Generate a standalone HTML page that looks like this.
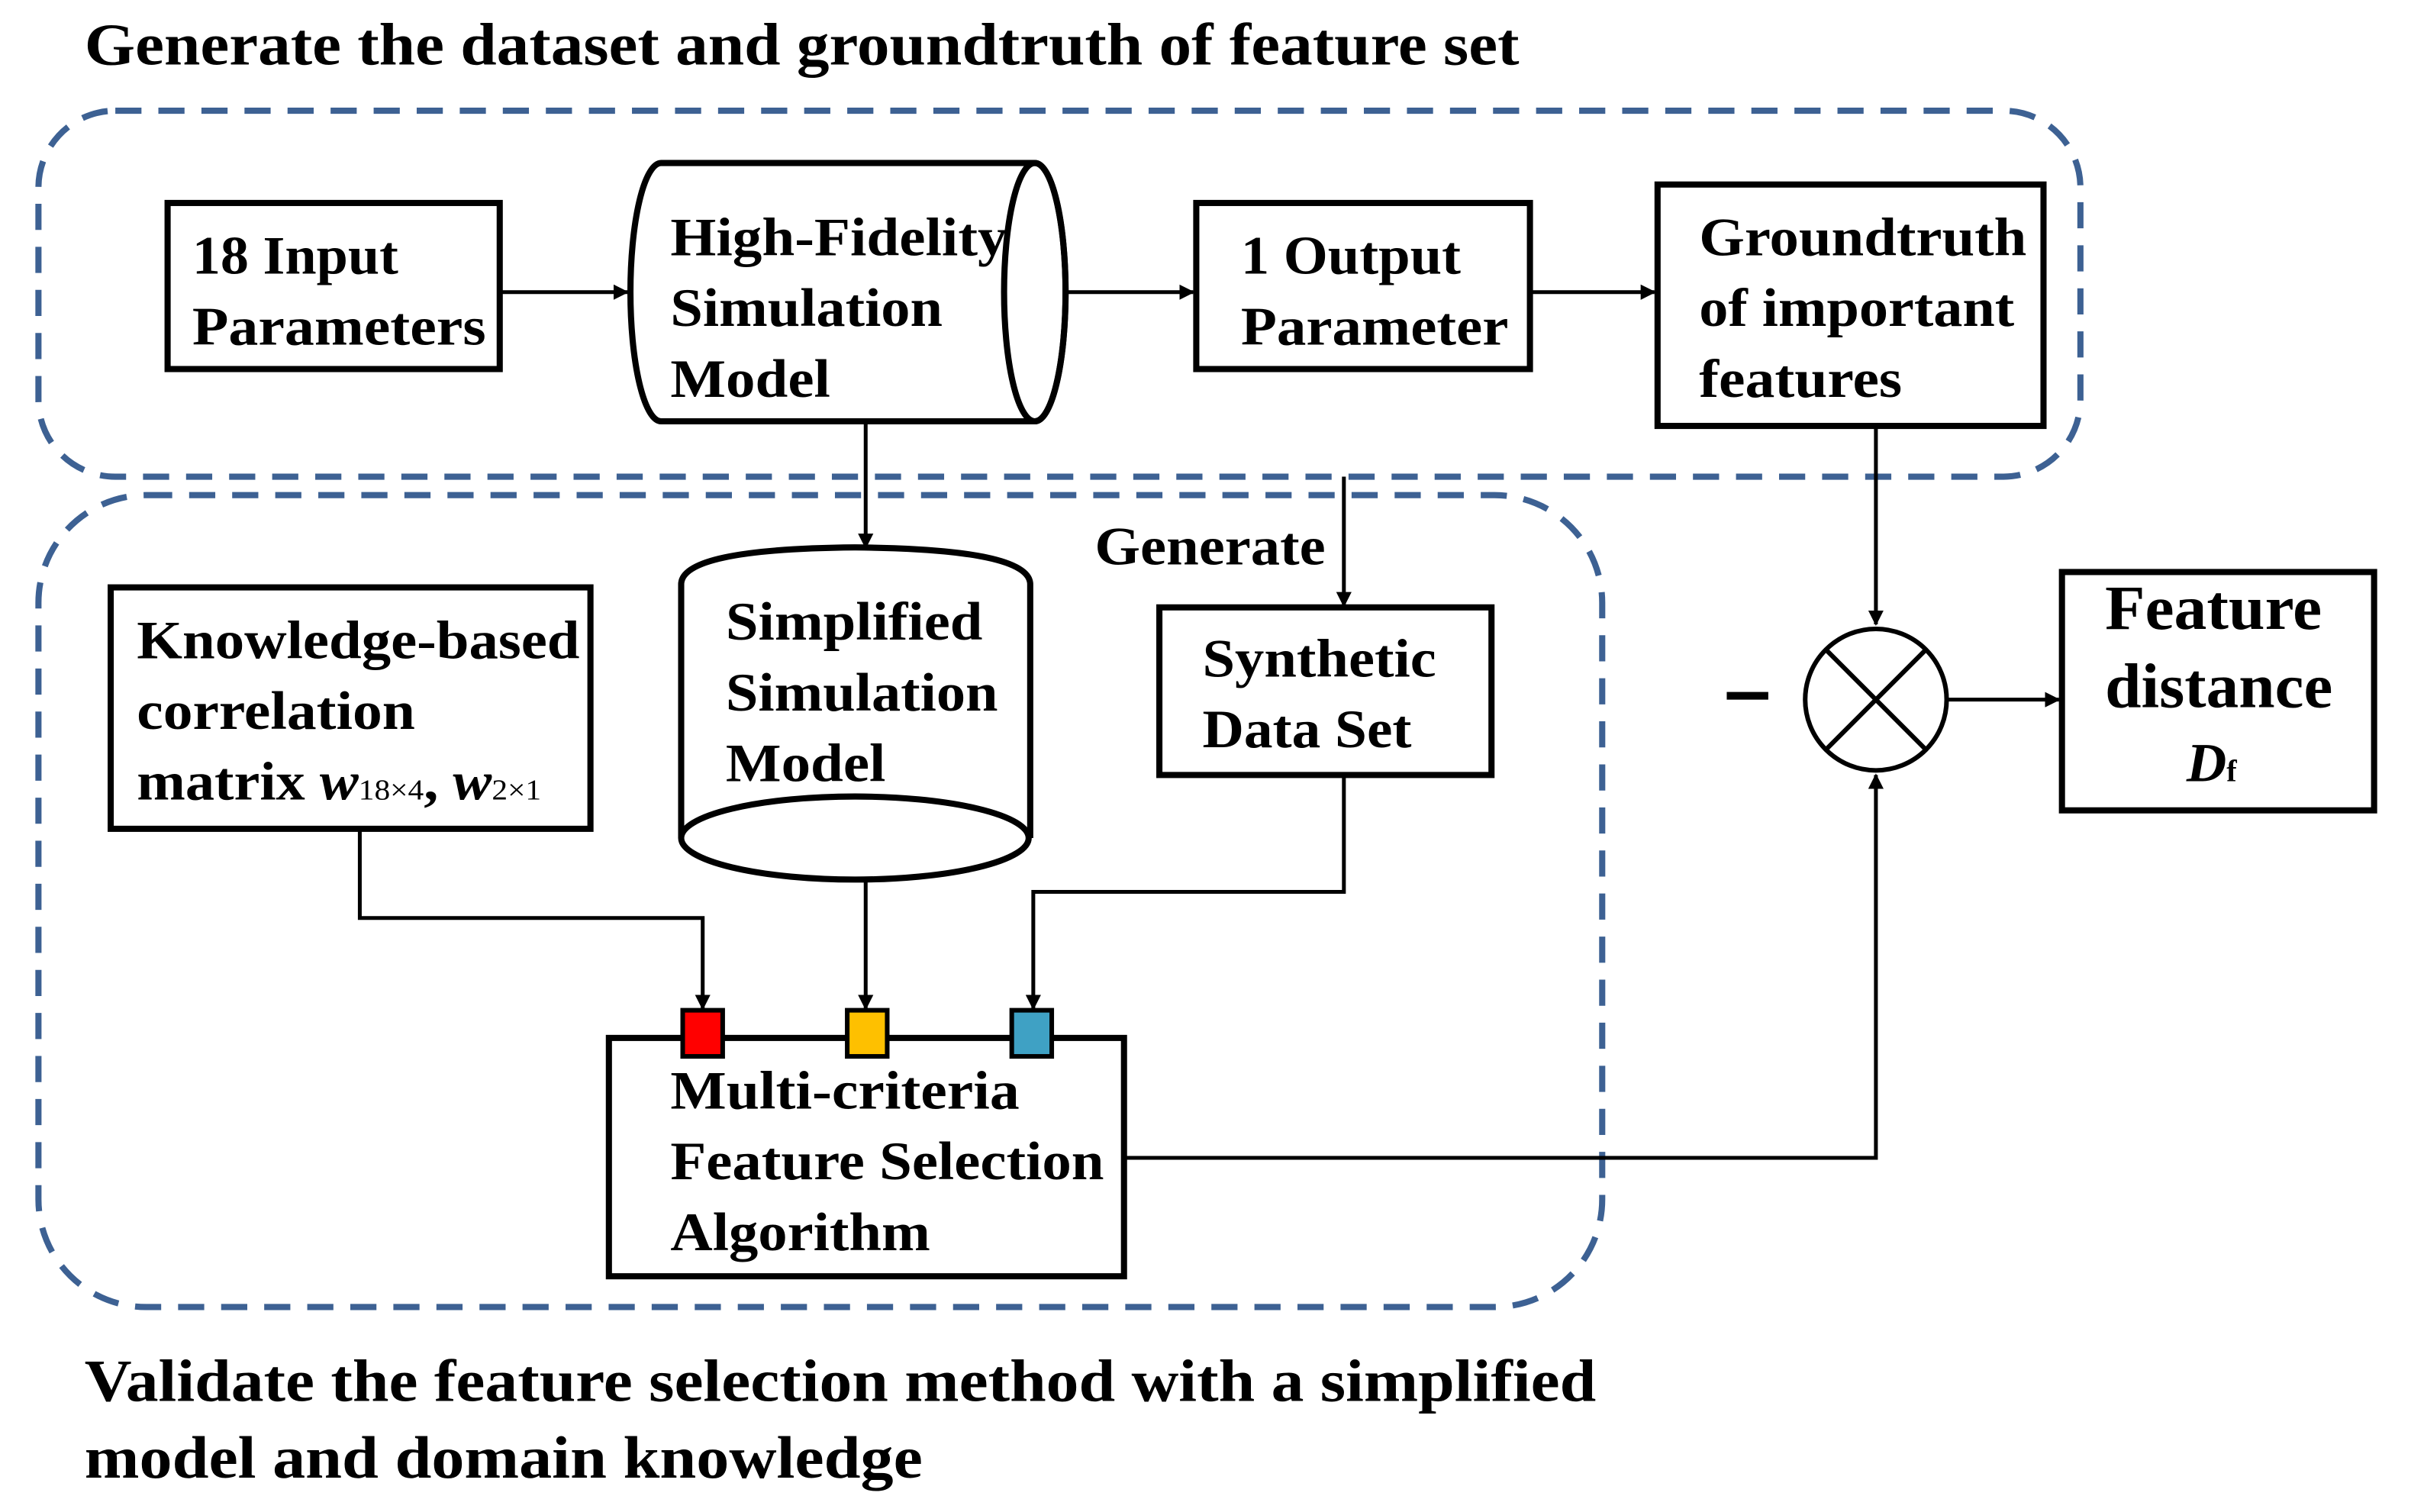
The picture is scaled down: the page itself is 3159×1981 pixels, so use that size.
<!DOCTYPE html>
<html><head><meta charset="utf-8"><style>
html,body{margin:0;padding:0;background:#fff;}
svg{display:block;}
text{font-family:"Liberation Serif",serif;font-weight:bold;fill:#000;}
</style></head><body>
<svg width="3159" height="1981" viewBox="0 0 1568 983.3" preserveAspectRatio="none" xmlns="http://www.w3.org/2000/svg">
<defs>
<marker id="a" markerWidth="10" markerHeight="10" refX="9" refY="5" orient="auto" markerUnits="userSpaceOnUse"><path d="M0,0 L10,5 L0,10 z" fill="#000"/></marker>
</defs>
<text x="55" y="42" font-size="39" textLength="933" lengthAdjust="spacingAndGlyphs">Generate the dataset and groundtruth of feature set</text>
<rect x="25" y="72" width="1328" height="238" rx="50" fill="none" stroke="#3d6193" stroke-width="4" stroke-dasharray="17,11"/>
<rect x="25" y="322" width="1017" height="528" rx="70" fill="none" stroke="#3d6193" stroke-width="4" stroke-dasharray="17,11"/>

<rect x="109" y="132" width="216" height="108" fill="#fff" stroke="#000" stroke-width="4"/>
<text x="125" y="178" font-size="35" textLength="134" lengthAdjust="spacingAndGlyphs">18 Input</text>
<text x="125" y="224" font-size="35" textLength="191" lengthAdjust="spacingAndGlyphs">Parameters</text>

<path d="M430,106 L673,106 A20,84 0 0 1 673,274 L430,274 A20,84 0 0 1 430,106 z" fill="#fff" stroke="#000" stroke-width="4"/>
<ellipse cx="673" cy="190" rx="20" ry="84" fill="none" stroke="#000" stroke-width="4"/>
<text x="436" y="166" font-size="35" textLength="219" lengthAdjust="spacingAndGlyphs">High-Fidelity</text>
<text x="436" y="212" font-size="35" textLength="177" lengthAdjust="spacingAndGlyphs">Simulation</text>
<text x="436" y="258" font-size="35" textLength="104" lengthAdjust="spacingAndGlyphs">Model</text>

<rect x="778" y="132" width="217" height="108" fill="#fff" stroke="#000" stroke-width="4"/>
<text x="807" y="178" font-size="35" textLength="143" lengthAdjust="spacingAndGlyphs">1 Output</text>
<text x="807" y="224" font-size="35" textLength="174" lengthAdjust="spacingAndGlyphs">Parameter</text>

<rect x="1078" y="120" width="251" height="157" fill="#fff" stroke="#000" stroke-width="4"/>
<text x="1105" y="166" font-size="35" textLength="213" lengthAdjust="spacingAndGlyphs">Groundtruth</text>
<text x="1105" y="212" font-size="35" textLength="205" lengthAdjust="spacingAndGlyphs">of important</text>
<text x="1105" y="258" font-size="35" textLength="132" lengthAdjust="spacingAndGlyphs">features</text>

<g stroke="#000" stroke-width="2.5" fill="none">
<line x1="325" y1="190" x2="408" y2="190" marker-end="url(#a)"/>
<line x1="693" y1="190" x2="776" y2="190" marker-end="url(#a)"/>
<line x1="995" y1="190" x2="1076" y2="190" marker-end="url(#a)"/>
<line x1="563" y1="275" x2="563" y2="356" marker-end="url(#a)"/>
<line x1="874" y1="310" x2="874" y2="394" marker-end="url(#a)"/>
<polyline points="234,539 234,597 457,597 457,656" marker-end="url(#a)"/>
<line x1="563" y1="570" x2="563" y2="656" marker-end="url(#a)"/>
<polyline points="874,504 874,580 672,580 672,656" marker-end="url(#a)"/>
<polyline points="731,753 1220,753 1220,504" marker-end="url(#a)"/>
<line x1="1220" y1="277" x2="1220" y2="406" marker-end="url(#a)"/>
<line x1="1266" y1="455" x2="1339" y2="455" marker-end="url(#a)"/>
</g>

<path d="M443,545 L443,380 Q443,357 556,356 Q670,357 670,380 L670,545" fill="#fff" stroke="#000" stroke-width="4"/>
<ellipse cx="556" cy="545" rx="113" ry="27" fill="#fff" stroke="#000" stroke-width="4"/>
<text x="472" y="416" font-size="35" textLength="167" lengthAdjust="spacingAndGlyphs">Simplified</text>
<text x="472" y="462" font-size="35" textLength="177" lengthAdjust="spacingAndGlyphs">Simulation</text>
<text x="472" y="508" font-size="35" textLength="104" lengthAdjust="spacingAndGlyphs">Model</text>

<text x="712" y="367" font-size="35" textLength="150" lengthAdjust="spacingAndGlyphs">Generate</text>
<rect x="754" y="395" width="216" height="109" fill="#fff" stroke="#000" stroke-width="4"/>
<text x="782" y="440" font-size="35" textLength="152" lengthAdjust="spacingAndGlyphs">Synthetic</text>
<text x="782" y="486" font-size="35" textLength="136" lengthAdjust="spacingAndGlyphs">Data Set</text>

<rect x="72" y="382" width="312" height="157" fill="#fff" stroke="#000" stroke-width="4"/>
<text x="89" y="428" font-size="35" textLength="288" lengthAdjust="spacingAndGlyphs">Knowledge-based</text>
<text x="89" y="474" font-size="35" textLength="181" lengthAdjust="spacingAndGlyphs">correlation</text>
<text x="89" y="520" font-size="35" textLength="263" lengthAdjust="spacingAndGlyphs">matrix <tspan font-style="italic">w</tspan><tspan font-size="19" font-weight="normal">18×4</tspan>, <tspan font-style="italic">w</tspan><tspan font-size="19" font-weight="normal">2×1</tspan></text>

<rect x="396" y="675" width="335" height="155" fill="#fff" stroke="#000" stroke-width="4"/>
<text x="436" y="721" font-size="35" textLength="227" lengthAdjust="spacingAndGlyphs">Multi-criteria</text>
<text x="436" y="767" font-size="35" textLength="282" lengthAdjust="spacingAndGlyphs">Feature Selection</text>
<text x="436" y="813" font-size="35" textLength="169" lengthAdjust="spacingAndGlyphs">Algorithm</text>
<rect x="444" y="657" width="26" height="30" fill="#f00" stroke="#000" stroke-width="3"/>
<rect x="551" y="657" width="26" height="30" fill="#fec000" stroke="#000" stroke-width="3"/>
<rect x="658" y="657" width="26" height="30" fill="#3fa1c4" stroke="#000" stroke-width="3"/>

<circle cx="1220" cy="455" r="46" fill="#fff" stroke="#000" stroke-width="3"/>
<line x1="1188" y1="423" x2="1252" y2="487" stroke="#000" stroke-width="3"/>
<line x1="1252" y1="423" x2="1188" y2="487" stroke="#000" stroke-width="3"/>
<rect x="1123" y="450" width="27" height="5" fill="#000"/>

<rect x="1341" y="372" width="203" height="155" fill="#fff" stroke="#000" stroke-width="4"/>
<text x="1369" y="409" font-size="41" textLength="141" lengthAdjust="spacingAndGlyphs">Feature</text>
<text x="1369" y="460" font-size="41" textLength="148" lengthAdjust="spacingAndGlyphs">distance</text>
<text x="1422" y="508" font-size="36" font-weight="normal" font-style="italic">D<tspan font-size="20" font-style="normal">f</tspan></text>

<text x="55" y="911" font-size="39" textLength="983" lengthAdjust="spacingAndGlyphs">Validate the feature selection method with a simplified</text>
<text x="55" y="961" font-size="39" textLength="545" lengthAdjust="spacingAndGlyphs">model and domain knowledge</text>
</svg>
</body></html>
